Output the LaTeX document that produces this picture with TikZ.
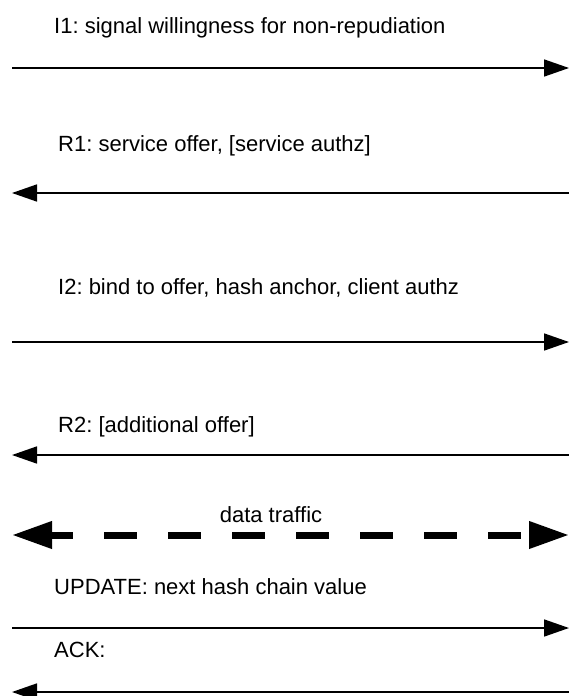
\documentclass[tikz,border=0pt]{standalone}
\usepackage{fontspec}
\setmainfont{Liberation Sans}
\usetikzlibrary{arrows.meta}
\frenchspacing

\begin{document}
\begin{tikzpicture}[x=1pt, y=-1pt, msg/.style={anchor=base west, inner sep=0pt, font=\fontsize{22}{26}\selectfont},
 lne/.style={line width=1.6pt, -{Triangle[length=25pt, width=17pt]}},
 dat/.style={line width=7pt, dash pattern=on 33pt off 31pt, dash phase=10pt, {Triangle[length=40pt, width=26pt]}-{Triangle[length=40pt, width=26pt]}}]
\useasboundingbox (0,0) rectangle (569,696);
\foreach \n/\y in {a/68,b/193,c/342,d/455,e/535,f/628,g/692}{\coordinate (l\n) at (12,\y); \coordinate (r\n) at (569,\y);}
% message labels
\node[msg] (i1) at (54,33) {I1: signal willingness for non-repudiation};
\node[msg] (r1) at (58,151) {R1: service offer, [service authz]};
\node[msg] (i2) at (58,294) {I2: bind to offer, hash anchor, client authz};
\node[msg] (r2) at (58,432) {R2: [additional offer]};
\node[msg, anchor=base] (dt) at (271,522) {data traffic};
\node[msg] (up) at (54,594) {UPDATE: next hash chain value};
\node[msg] (ack) at (54,657) {ACK:};
% arrows
\draw[lne] (la) -- (ra);
\draw[lne] (rb) -- (lb);
\draw[lne] (lc) -- (rc);
\draw[lne] (rd) -- (ld);
\draw[dat] (le) -- (re);
\draw[lne] (lf) -- (rf);
\draw[lne] (rg) -- (lg);
\end{tikzpicture}
\end{document}
